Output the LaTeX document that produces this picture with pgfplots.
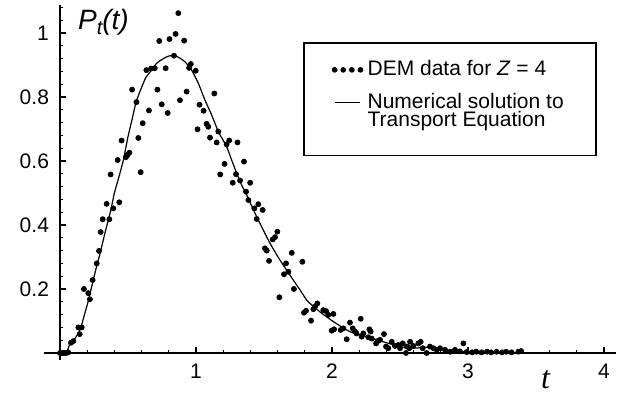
\documentclass[border=0pt]{standalone}
\usepackage{fontspec}
\setmainfont{Liberation Sans}
\newfontfamily\serifit{Liberation Serif}
\usepackage{pgfplots}
\pgfplotsset{compat=1.18}
\pgfplotstableread{
t P
0.000 0.000
0.015 0.000
0.030 0.000
0.045 0.000
0.060 0.002
0.081 0.032
0.098 0.037
0.135 0.080
0.160 0.080
0.145 0.059
0.176 0.200
0.208 0.187
0.220 0.168
0.240 0.228
0.270 0.280
0.287 0.319
0.299 0.378
0.314 0.418
0.363 0.418
0.343 0.466
0.392 0.452
0.436 0.471
0.372 0.558
0.424 0.603
0.485 0.612
0.497 0.619
0.510 0.626
0.453 0.664
0.593 0.565
0.576 0.672
0.608 0.718
0.654 0.758
0.562 0.784
0.530 0.823
0.635 0.884
0.670 0.889
0.697 0.890
0.716 0.823
0.748 0.777
0.792 0.750
0.777 0.890
0.730 0.975
0.805 0.981
0.850 0.997
0.870 1.062
0.913 0.976
0.838 0.929
0.882 0.790
0.931 0.817
0.962 0.903
0.949 0.891
0.998 0.882
1.026 0.776
1.056 0.757
1.135 0.811
1.078 0.716
1.090 0.707
1.011 0.699
1.164 0.692
1.103 0.673
1.152 0.658
1.225 0.652
1.244 0.664
1.305 0.658
1.210 0.591
1.353 0.598
1.178 0.558
1.294 0.559
1.270 0.532
1.324 0.539
1.398 0.532
1.368 0.504
1.385 0.478
1.458 0.465
1.429 0.452
1.490 0.447
1.446 0.419
1.598 0.379
1.581 0.362
1.564 0.355
1.507 0.327
1.520 0.320
1.704 0.313
1.537 0.288
1.662 0.280
1.782 0.285
1.679 0.254
1.647 0.246
1.720 0.200
1.613 0.174
1.809 0.132
1.794 0.126
1.846 0.101
1.875 0.145
1.892 0.155
1.863 0.137
1.936 0.134
1.956 0.131
2.010 0.122
1.973 0.119
2.132 0.095
2.211 0.107
1.998 0.070
2.015 0.074
2.064 0.072
2.083 0.077
2.108 0.043
2.152 0.077
2.169 0.067
2.180 0.061
2.230 0.061
2.218 0.051
2.275 0.074
2.284 0.067
2.267 0.049
2.292 0.045
2.324 0.030
2.340 0.038
2.353 0.041
2.382 0.059
2.397 0.020
2.414 0.015
2.439 0.035
2.463 0.022
2.488 0.025
2.500 0.015
2.520 0.030
2.544 0.000
2.569 0.015
2.598 0.022
2.550 0.020
2.574 0.035
2.635 0.030
2.652 0.035
2.667 0.015
2.696 0.000
2.720 0.020
2.745 0.015
2.770 0.010
2.794 0.015
2.831 0.010
2.868 0.004
2.904 0.010
2.966 0.030
2.940 0.005
2.990 0.003
3.030 0.002
3.060 0.004
3.100 0.002
3.140 0.004
3.170 0.002
3.210 0.004
3.250 0.002
3.280 0.004
3.320 0.002
3.370 0.004
3.390 0.006
}\demdata
\pgfplotstableread{
t P
0.000 0.000
0.030 0.000
0.050 0.004
0.075 0.030
0.110 0.045
0.150 0.075
0.180 0.120
0.210 0.166
0.257 0.250
0.300 0.320
0.330 0.374
0.370 0.440
0.400 0.500
0.433 0.550
0.466 0.603
0.500 0.676
0.530 0.730
0.560 0.785
0.600 0.830
0.630 0.860
0.660 0.877
0.710 0.905
0.760 0.920
0.800 0.928
0.840 0.930
0.880 0.922
0.919 0.910
0.968 0.884
1.017 0.843
1.066 0.790
1.115 0.744
1.164 0.692
1.225 0.645
1.262 0.603
1.299 0.562
1.330 0.530
1.380 0.487
1.430 0.440
1.470 0.405
1.544 0.343
1.618 0.290
1.715 0.228
1.765 0.197
1.814 0.165
1.838 0.155
1.910 0.129
2.010 0.098
2.130 0.067
2.255 0.051
2.377 0.035
2.500 0.020
2.600 0.015
2.700 0.018
2.750 0.012
2.850 0.008
3.000 0.004
3.200 0.002
3.400 0.000
}\curvedata
\begin{document}
\begin{tikzpicture}
\path[use as bounding box] (0pt,0pt) rectangle (312pt,197.5pt);
\begin{axis}[
  at={(22pt,17.5pt)}, anchor=south west,
  scale only axis, width=286pt, height=177.5pt,
  xmin=-0.1176, xmax=4.088, ymin=-0.0219, ymax=1.0875,
  axis lines=middle,
  axis line style={line width=0.8pt,-},
  xtick={1,2,3,4}, ytick={0.2,0.4,0.6,0.8,1},
  minor xtick={0.2,0.4,...,4},
  minor ytick={0.04,0.08,...,1.08},
  tick align=inside,
  major tick length=3pt, minor tick length=1.6pt,
  every tick/.style={black, line width=0.6pt},
  ticklabel style={font=\fontsize{10.5}{12}\selectfont},
  /pgf/number format/assume math mode=true,
  /pgf/number format/fixed,
  xticklabel style={yshift=-2pt},
  yticklabel style={xshift=-2pt},
  clip=false,
  legend cell align=left,
  legend style={at={(axis cs:1.787,0.972)}, anchor=north west,
    draw=black, line width=0.8pt,
    font=\fontsize{10.5}{10.5}\selectfont,
    inner xsep=14pt, inner ysep=7pt, row sep=3pt},
]
\addplot[only marks, mark=*, mark size=1.25pt, black,
  legend image code/.code={
    \foreach \xx in {0pt,4.3pt,8.6pt,12.9pt}{\fill[black] (\xx,0pt) circle (1.0pt);}
    \path[draw=none] (0pt,0pt) -- (14.5pt,0pt);
  }] table[x=t,y=P] {\demdata};
\addlegendentry{DEM data for \textit{Z} = 4}
\addplot[black, line width=0.6pt, smooth, tension=0.3,
  legend image code/.code={\draw[black, line width=0.5pt] (0pt,2.5pt) -- (12.9pt,2.5pt);
    \path[draw=none] (0pt,0pt) -- (14.5pt,0pt);}
  ] table[x=t,y=P] {\curvedata};
\addlegendentry{\begin{tabular}{@{}l@{}}Numerical solution to\\[-1.5pt]Transport Equation\end{tabular}}
\addlegendimage{empty legend}
\addlegendentry[inner sep=0pt]{\rule{0pt}{3.5pt}}
\node[anchor=west, inner sep=0pt, font=\fontsize{14}{16}\selectfont\itshape] at (axis cs:0.13,1.035) {P\raisebox{-0.35ex}{\fontsize{10}{11}\selectfont t}(t)};
\node[inner sep=0pt, font=\fontsize{16}{17}\selectfont\serifit\itshape] at (axis cs:3.57,-0.084) {t};
\end{axis}
\end{tikzpicture}
\end{document}
